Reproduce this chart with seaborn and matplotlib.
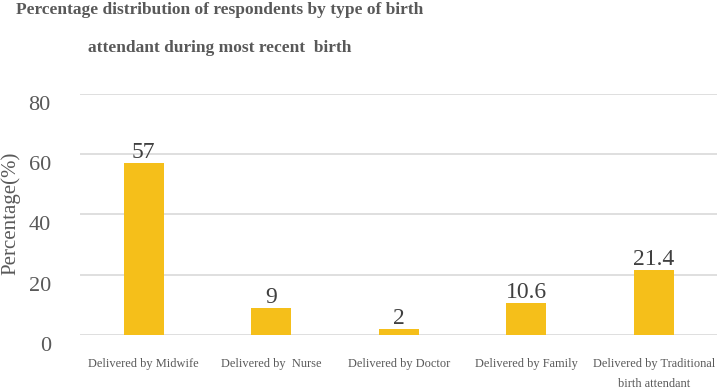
import matplotlib
matplotlib.use("Agg")
import matplotlib.pyplot as plt
import matplotlib.transforms as mtransforms
import seaborn as sns
import pandas as pd

categories = ["Delivered by Midwife", "Delivered by  Nurse", "Delivered by Doctor",
              "Delivered by Family", "Delivered by Traditional\nbirth attendant"]
values = [57, 9, 2, 10.6, 21.4]
value_labels = ["57", "9", "2", "10.6", "21.4"]
yticks = [0, 20, 40, 60, 80]

sns.set_theme(style="white")
plt.rcParams['font.family'] = ['Liberation Serif', 'DejaVu Serif']

df = pd.DataFrame({"cat": categories, "val": values})

fig = plt.figure(figsize=(7.17, 3.9), dpi=100)
ax = fig.add_axes([80/717, 1 - 334.7/390, (717.5-80)/717, (334.7-94)/390])

sns.barplot(data=df, x="cat", y="val", ax=ax, color="#F5BF1A", width=0.31,
            saturation=1, edgecolor="none")

ax.set_xlim(-0.5, 4.5)
ax.set_ylim(0, 80)
ax.set_yticks(yticks)
ax.set_yticklabels([str(t) for t in yticks], fontsize=16, color="#595959")
ax.yaxis.grid(True, color="#d9d9d9", linewidth=1.2)
ax.set_axisbelow(True)
for s in ax.spines.values():
    s.set_visible(False)
ax.tick_params(axis="y", length=0, pad=21)
ax.tick_params(axis="x", length=0, pad=17)
offset = mtransforms.ScaledTranslation(0, -9/100, fig.dpi_scale_trans)
for lab in ax.get_yticklabels():
    lab.set_transform(lab.get_transform() + offset)
    lab.set_horizontalalignment("right")

ax.set_xticks(range(len(categories)))
ax.set_xticklabels(categories, fontsize=8.9, color="#595959", linespacing=1.85, va="top")
ax.set_xlabel("")
ax.set_ylabel("")
fig.text(11/717, 1 - 213/390, "Percentage(%)", rotation=90, ha="center", va="center",
         fontsize=15, color="#595959")

for i, (v, t) in enumerate(zip(values, value_labels)):
    ax.annotate(t, (i, v), xytext=(0, 0), textcoords="offset points",
                ha="center", va="bottom", fontsize=17, color="#404040")

fig.text(220/717, 1 - 10/390, "Percentage distribution of respondents by type of birth",
         ha="center", va="center", fontsize=12.5, fontweight="bold", color="#595959")
fig.text(220/717, 1 - 48/390, "attendant during most recent  birth",
         ha="center", va="center", fontsize=12.5, fontweight="bold", color="#595959")

fig.savefig("out.png", dpi=100)
